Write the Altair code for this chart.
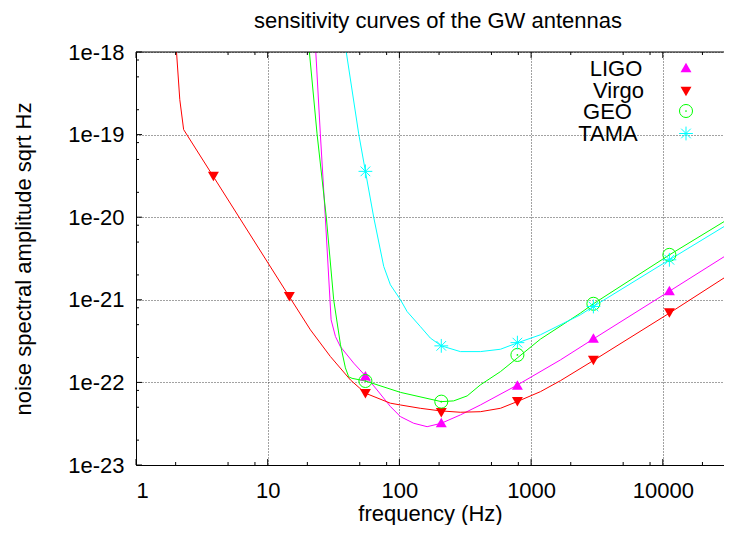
import altair as alt
import pandas as pd

# ---------------- data ----------------
series = ["LIGO", "Virgo", "GEO", "TAMA"]
colors = ["#ff00ff", "#ff0000", "#00ff00", "#00ffff"]
title_text = "sensitivity curves of the GW antennas"

# curve samples (frequency in Hz, noise amplitude)
ligo_f = [22.9, 25.1, 27.4, 30.3, 32.7, 35.6, 45.0, 55.2, 67.7, 85.5, 101.9, 128.5, 162.4, 208, 290.4, 412, 787, 1668, 2972, 11220, 33800]
ligo_h = [1.42e-18, 1.02e-19, 9.8e-21, 5.73e-22, 3.59e-22, 2.72e-22, 1.71e-22, 1.2e-22, 8.1e-23, 5.1e-23, 3.85e-23, 3.2e-23, 2.91e-23, 3.2e-23, 4.04e-23, 5.33e-23, 9.3e-23, 1.87e-22, 3.36e-22, 1.27e-21, 3.85e-21]

virgo_f = [2.00, 2.15, 2.30, 3.87, 14.6, 21.1, 29.9, 42.5, 55.2, 85.4, 101.8, 144, 205, 290, 412, 585, 783, 1178, 1671, 2972, 11220, 33800]
virgo_h = [1.42e-18, 2.65e-19, 1.15e-19, 3.1e-20, 1.09e-21, 4.33e-22, 2.06e-22, 1.07e-22, 7.4e-23, 5.6e-23, 5.33e-23, 4.86e-23, 4.52e-23, 4.35e-23, 4.42e-23, 4.86e-23, 5.85e-23, 7.73e-23, 1.05e-22, 1.84e-22, 6.9e-22, 2.14e-21]

geo_f = [20.3, 23.7, 27.9, 31.7, 35.7, 38.9, 41.2, 43.7, 55.2, 101.9, 208, 258, 327, 412, 585, 787, 1177, 2366, 2972, 11220, 33800]
geo_h = [1.42e-18, 1.02e-19, 9.8e-21, 1.0e-21, 2.85e-22, 1.5e-22, 1.17e-22, 1.12e-22, 1.04e-22, 7.57e-23, 5.85e-23, 5.97e-23, 6.86e-23, 9.33e-23, 1.35e-22, 1.98e-22, 3.34e-22, 6.9e-22, 8.95e-22, 3.5e-21, 1.02e-20]

tama_f = [38.2, 49.1, 55.2, 63.8, 76.0, 85.4, 101.9, 114.4, 144.3, 171.9, 208, 290.3, 412, 585, 787, 1177, 2366, 2972, 11220, 33800]
tama_h = [1.42e-18, 1.02e-19, 3.59e-20, 1.0e-20, 2.54e-21, 1.52e-21, 1.0e-21, 7.21e-22, 4.74e-22, 3.44e-22, 2.77e-22, 2.36e-22, 2.36e-22, 2.52e-22, 3.01e-22, 3.77e-22, 6.58e-22, 8.3e-22, 3.05e-21, 8.89e-21]

# point markers
marker_f = [3.87, 14.6, 55.2, 208, 787, 2972, 11220]
virgo_mk = [3.1e-20, 1.09e-21, 7.3e-23, 4.3e-23, 5.85e-23, 1.84e-22, 6.9e-22]
ligo_mk = [1.2e-22, 3.26e-23, 9.3e-23, 3.45e-22, 1.3e-21]
geo_mk = [1.04e-22, 5.85e-23, 2.15e-22, 8.95e-22, 3.5e-21]
tama_mk = [3.59e-20, 2.77e-22, 3.03e-22, 8.3e-22, 3.05e-21]

# axis ticks
x_major = [1, 10, 100, 1000, 10000]
x_minor = [2, 5, 8, 20, 50, 80, 200, 500, 800, 2000, 5000, 8000, 20000]
y_major = [1e-23, 1e-22, 1e-21, 1e-20, 1e-19, 1e-18]
y_minor = [m * d for d in [1e-23, 1e-22, 1e-21, 1e-20, 1e-19] for m in (2, 5, 8)]

# ---------------- chart ----------------
W, H = 588, 413
FONT = "Liberation Sans"
FS = 22

xscale = alt.Scale(type="log", domain=[1, 29150], nice=False)
yscale = alt.Scale(type="log", domain=[1e-23, 1e-18], nice=False)

x_axis = alt.Axis(values=x_major, labelExpr="format(datum.value, 'd')", title="frequency (Hz)",
                  ticks=False, tickSize=0, grid=True, labelPadding=15, titleY=55,
                  titleBaseline="alphabetic")
y_axis = alt.Axis(values=y_major, labelExpr="'1e' + round(log(datum.value) / LN10)",
                  title="noise spectral amplitude sqrt Hz", ticks=False, tickSize=0, grid=True,
                  labelPadding=12, titleX=-113, titleY=H / 2, titleBaseline="middle")

def X(field="f"):
    return alt.X(f"{field}:Q", scale=xscale, axis=x_axis, title="frequency (Hz)")

def Y(field="h"):
    return alt.Y(f"{field}:Q", scale=yscale, axis=y_axis, title="noise spectral amplitude sqrt Hz")

rows = []
for name, fs, hs in [("LIGO", ligo_f, ligo_h), ("Virgo", virgo_f, virgo_h),
                     ("GEO", geo_f, geo_h), ("TAMA", tama_f, tama_h)]:
    for i, (f, h) in enumerate(zip(fs, hs)):
        rows.append({"series": name, "f": f, "h": h, "i": i})
curves = pd.DataFrame(rows)

lines = alt.Chart(curves).mark_line(clip=True, strokeWidth=1, interpolate="linear").encode(
    x=X(), y=Y(),
    color=alt.Color("series:N", scale=alt.Scale(domain=series, range=colors), legend=None),
    detail="series:N",
    order="i:Q",
)

def marks(fs, hs, **kw):
    df = pd.DataFrame({"f": fs, "h": hs})
    return alt.Chart(df).mark_point(opacity=1, clip=True, **kw).encode(x=X(), y=Y())

ASTER = "M-1,0L1,0M0,-1L0,1M-0.7,-0.7L0.7,0.7M-0.7,0.7L0.7,-0.7"

pts = [
    marks(marker_f, virgo_mk, shape="triangle-down", filled=True, color="#ff0000", size=120),
    marks(marker_f[2:], ligo_mk, shape="triangle-up", filled=True, color="#ff00ff", size=120),
    marks(marker_f[2:], geo_mk, shape="circle", filled=False, color="#00ff00", size=170, strokeWidth=1),
    marks(marker_f[2:], geo_mk, shape="circle", filled=True, color="#00ff00", size=3),
    marks(marker_f[2:], tama_mk, shape=ASTER, filled=False, color="#00ffff", size=190, strokeWidth=1),
]

def tick_x(vals, y0, y1):
    return alt.Chart(pd.DataFrame({"f": vals})).mark_rule(color="black", strokeWidth=1).encode(
        x=X(), y=alt.value(y0), y2=alt.value(y1))

def tick_y(vals, x0, x1):
    return alt.Chart(pd.DataFrame({"h": vals})).mark_rule(color="black", strokeWidth=1).encode(
        y=Y(), x=alt.value(x0), x2=alt.value(x1))

MAJ, MIN = 6, 3
ticks = [
    tick_x(x_major, H, H - MAJ), tick_x(x_minor, H, H - MIN),
    tick_x(x_major, 0, MAJ), tick_x(x_minor, 0, MIN),
    tick_y(y_major, 0, MAJ), tick_y(y_minor, 0, MIN),
]

top_border = alt.Chart(pd.DataFrame({"a": [0]})).mark_rule(color="black", strokeWidth=1).encode(
    x=alt.value(0), x2=alt.value(W), y=alt.value(0))

title_mark = alt.Chart(pd.DataFrame({"t": [title_text]})).mark_text(
    font=FONT, fontSize=FS, color="black", align="center", baseline="alphabetic").encode(
    text="t:N", x=alt.value(302), y=alt.value(-24))

# legend (label left of symbol, as in the reference)
leg_text_pos = {"LIGO": (480, 16.5), "Virgo": (482.5, 39), "GEO": (471.5, 59.5), "TAMA": (472, 81.5)}
leg_sym_y = {"LIGO": 15.5, "Virgo": 39.5, "GEO": 59, "TAMA": 81.5}
SYM_X = 550
legend = []
for name in series:
    tx, ty = leg_text_pos[name]
    legend.append(alt.Chart(pd.DataFrame({"label": [name]})).mark_text(
        font=FONT, fontSize=FS, color="black", align="center", baseline="middle").encode(
        text="label:N", x=alt.value(tx), y=alt.value(ty)))
sym_specs = {
    "LIGO": [dict(shape="triangle-up", filled=True, color="#ff00ff", size=120)],
    "Virgo": [dict(shape="triangle-down", filled=True, color="#ff0000", size=120)],
    "GEO": [dict(shape="circle", filled=False, color="#00ff00", size=170, strokeWidth=1),
            dict(shape="circle", filled=True, color="#00ff00", size=3)],
    "TAMA": [dict(shape=ASTER, filled=False, color="#00ffff", size=190, strokeWidth=1)],
}
for name in series:
    for spec in sym_specs[name]:
        legend.append(alt.Chart(pd.DataFrame({"label": [name]})).mark_point(opacity=1, **spec).encode(
            x=alt.value(SYM_X), y=alt.value(leg_sym_y[name])))

chart = alt.layer(lines, *pts, *ticks, top_border, title_mark, *legend).properties(
    width=W, height=H,
    padding={"left": 128, "top": 44, "right": 0, "bottom": 60},
    autosize=alt.AutoSizeParams(type="none"),
).configure_view(stroke=None).configure_axis(
    labelFont=FONT, titleFont=FONT, labelFontSize=FS, titleFontSize=FS,
    labelColor="black", titleColor="black", titleFontWeight="normal",
    domainColor="black", domainWidth=1,
    gridColor="#444444", gridDash=[1, 2], gridWidth=1, gridOpacity=1,
)

chart.save("out.html", embed_options={"renderer": "svg", "actions": False})
